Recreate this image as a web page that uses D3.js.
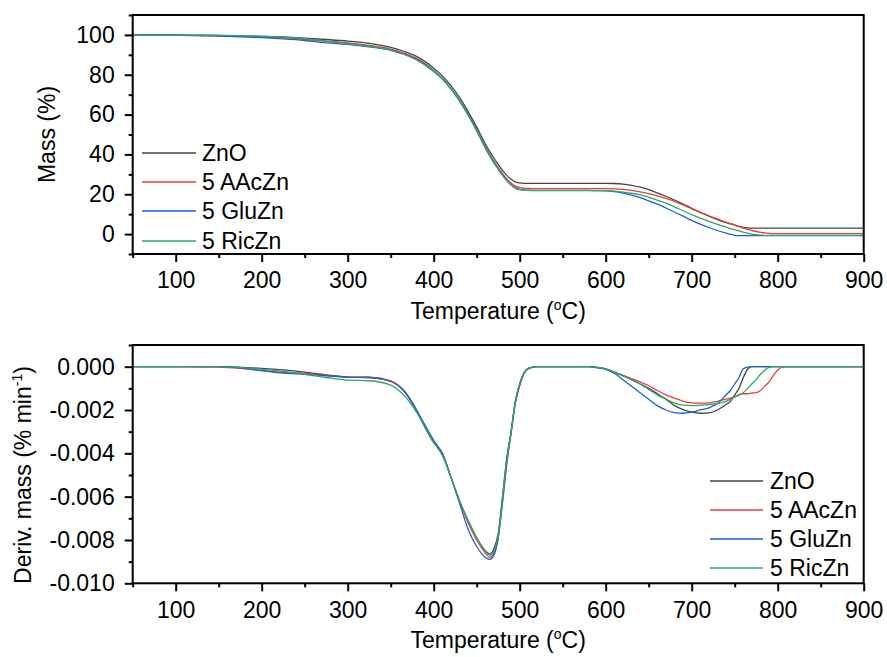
<!DOCTYPE html>
<html><head><meta charset="utf-8">
<script src="https://cdn.jsdelivr.net/npm/d3@7/dist/d3.min.js"></script>
<style>body{margin:0;background:#fff;} svg text{font-family:"Liberation Sans",Arial,sans-serif;fill:#000;}</style>
</head><body>
<svg id="c" width="887" height="657"></svg>
<script>
const temps = [50,100,150,175,200,225,250,275,300,325,
  350,365,380,390,400,410,420,430,440,450,
  460,465,470,475,480,485,490,495,500,505,
  510,520,550,580,590,600,610,620,630,640,
  650,660,670,680,690,700,710,720,730,740,
  745,750,755,760,765,770,775,780,785,790,
  795,800,805,810,850,900];

const seriesNames = ["ZnO","5 AAcZn","5 GluZn","5 RicZn"];

const massZnO = [100,99.9,99.7,99.5,99.3,99.0,98.4,97.7,96.9,95.8,
  93.8,91.8,89.2,86.6,83.3,79.4,74.5,68.6,61.5,53.7,
  45.3,41.5,38.2,35.0,32.0,29.5,27.5,26.2,25.7,25.5,
  25.5,25.5,25.5,25.5,25.5,25.5,25.4,25.1,24.5,23.6,
  22.3,20.7,19.0,17.1,15.1,12.9,10.9,9.0,7.3,5.8,
  5.1,4.5,3.9,3.4,3.1,3.0,3.0,3.0,3.0,3.0,
  3.0,3.0,3.0,3.0,3.0,3.0];
const massAAc = [100,99.9,99.6,99.4,99.0,98.5,97.8,96.9,96.0,94.8,
  92.9,90.9,88.2,85.5,82.0,78.0,73.0,67.0,60.0,52.2,
  43.8,40.0,36.6,33.4,30.3,27.7,25.6,24.1,23.3,23.0,
  22.9,22.8,22.8,22.8,22.8,22.8,22.7,22.4,21.9,21.2,
  20.3,19.2,17.9,16.4,14.6,12.7,10.9,9.2,7.6,6.0,
  5.3,4.6,3.8,3.0,2.4,1.8,1.3,0.9,0.6,0.4,
  0.25,0.2,0.2,0.2,0.2,0.2];
const massGlu = [100,99.8,99.4,99.0,98.6,98.0,97.2,96.0,95.2,94.0,
  92.3,90.4,87.8,85.2,81.9,78.0,73.0,67.0,60.0,52.0,
  43.4,39.5,36.0,32.8,29.7,27.0,24.8,23.2,22.4,22.1,
  22.0,21.9,21.9,21.9,21.8,21.7,21.3,20.6,19.6,18.3,
  16.7,15.0,13.1,11.1,9.0,6.9,5.0,3.3,1.8,0.5,
  -0.1,-0.6,-0.8,-0.8,-0.8,-0.8,-0.8,-0.8,-0.8,-0.8,
  -0.8,-0.8,-0.8,-0.8,-0.8,-0.8];
const massRic = [100,99.9,99.8,99.6,99.3,98.9,98.1,96.8,95.6,94.2,
  92.4,90.3,87.4,84.8,81.6,77.8,72.8,66.8,59.8,51.8,
  43.2,39.3,35.8,32.6,29.5,26.8,24.6,23.0,22.3,22.0,
  21.9,21.8,21.8,21.8,21.8,21.8,21.6,21.1,20.5,19.7,
  18.6,17.1,15.5,13.7,11.7,9.8,8.0,6.4,4.9,3.5,
  2.8,2.2,1.6,1.0,0.5,0.0,-0.3,-0.5,-0.6,-0.6,
  -0.6,-0.6,-0.6,-0.6,-0.6,-0.6];

const dtgZnO = [0,0,0,-0.00003,-0.00008,-0.00015,-0.00025,-0.00038,-0.00048,-0.0005,
  -0.00068,-0.0011,-0.002,-0.0028,-0.0035,-0.004,-0.0051,-0.0062,-0.0071,-0.0079,
  -0.0085,-0.00865,-0.0084,-0.0077,-0.006,-0.0042,-0.003,-0.0016,-0.0008,-0.0003,
  -0.00008,0,0,0,-0.00003,-0.0001,-0.00025,-0.00042,-0.0006,-0.0008,
  -0.001,-0.00125,-0.0015,-0.0018,-0.00198,-0.0021,-0.00215,-0.00213,-0.002,-0.00175,
  -0.0016,-0.0013,-0.001,-0.0005,-0.00012,0,0,0,0,0,
  0,0,0,0,0,0];
const dtgAAc = [0,0,-0.00002,-0.00008,-0.00018,-0.00026,-0.0003,-0.0004,-0.00048,-0.0005,
  -0.00068,-0.0011,-0.002,-0.0028,-0.0035,-0.004,-0.0051,-0.0062,-0.0072,-0.008,
  -0.0086,-0.0088,-0.0086,-0.0079,-0.0063,-0.0045,-0.0031,-0.0017,-0.0009,-0.0003,
  -0.0001,0,0,0,-0.00003,-0.0001,-0.00025,-0.0004,-0.00055,-0.0007,
  -0.00088,-0.0011,-0.0013,-0.00145,-0.0016,-0.00167,-0.00168,-0.00167,-0.0016,-0.0015,
  -0.00145,-0.0014,-0.0013,-0.00125,-0.00125,-0.00122,-0.0012,-0.0011,-0.0009,-0.0007,
  -0.0004,-0.00015,-0.00002,0,0,0];
const dtgGlu = [0,0,0,-0.00005,-0.00018,-0.0003,-0.00035,-0.00042,-0.00048,-0.00048,
  -0.00065,-0.0011,-0.002,-0.0027,-0.0034,-0.004,-0.0051,-0.0063,-0.0075,-0.0083,
  -0.0088,-0.0089,-0.0087,-0.0079,-0.0062,-0.0044,-0.003,-0.0016,-0.0008,-0.0003,
  -0.00008,0,0,0,-0.00005,-0.00012,-0.0003,-0.0006,-0.0009,-0.0012,
  -0.0015,-0.0018,-0.002,-0.00212,-0.00215,-0.0021,-0.002,-0.0019,-0.0017,-0.0013,
  -0.0011,-0.0008,-0.0005,-0.0001,-0.00002,0,0,0,0,0,
  0,0,0,0,0,0];
const dtgRic = [0,0,0,-0.00003,-0.00012,-0.00022,-0.00035,-0.0005,-0.00062,-0.00065,
  -0.00085,-0.0013,-0.0021,-0.0028,-0.0035,-0.0041,-0.0051,-0.0062,-0.0071,-0.0079,
  -0.0085,-0.0087,-0.0085,-0.0078,-0.0061,-0.0043,-0.003,-0.0016,-0.0008,-0.0003,
  -0.00008,0,0,0,-0.00003,-0.0001,-0.00025,-0.00042,-0.0006,-0.0008,
  -0.00105,-0.0013,-0.0015,-0.00168,-0.00178,-0.0018,-0.00178,-0.00175,-0.0017,-0.0016,
  -0.0015,-0.0014,-0.0013,-0.0012,-0.001,-0.0008,-0.0006,-0.00035,-0.00015,-0.00003,
  0,0,0,0,0,0];

const xTicks = [100,200,300,400,500,600,700,800,900];
const xMinorTicks = [50,150,250,350,450,550,650,750,850];
const massTicks = [0,20,40,60,80,100];
const massMinorTicks = [-10,10,30,50,70,90,110];
const dtgTicks = [0,-0.002,-0.004,-0.006,-0.008,-0.010];
const dtgMinorTicks = [0.001,-0.001,-0.003,-0.005,-0.007,-0.009];

const colors = ["#454545","#f03a3a","#1c5fd8","#2aa866"];
const FS = 23;

const svg = d3.select("#c");
const L = 132.7, R = 863.7;
const x = d3.scaleLinear().domain([50,900]).range([L,R]);

function panel(top, bottom, yDomain, majors, minors, fmt, seriesList) {
  const y = d3.scaleLinear().domain(yDomain).range([bottom, top]);
  const g = svg.append("g");
  const clipId = "clip" + Math.round(top);
  svg.append("clipPath").attr("id", clipId).append("rect")
    .attr("x", L).attr("y", top).attr("width", R - L).attr("height", bottom - top);
  const line = d3.line().x((d,i)=>x(temps[i])).y(d=>y(d)).curve(d3.curveMonotoneX);
  const cg = g.append("g").attr("clip-path", `url(#${clipId})`);
  seriesList.forEach((s, i) => {
    cg.append("path").attr("d", line(s)).attr("fill","none")
      .attr("stroke", colors[i]).attr("stroke-width",1.3);
  });
  g.append("g").attr("transform",`translate(0,${bottom})`)
    .call(d3.axisBottom(x).tickValues(xTicks).tickSize(8).tickPadding(10).tickFormat(d3.format("d")));
  g.append("g").attr("transform",`translate(0,${bottom})`)
    .call(d3.axisBottom(x).tickValues(xMinorTicks).tickSize(4).tickFormat(""));
  g.append("g").attr("transform",`translate(${L},0)`)
    .call(d3.axisLeft(y).tickValues(majors).tickSize(8).tickPadding(10).tickFormat(fmt));
  g.append("g").attr("transform",`translate(${L},0)`)
    .call(d3.axisLeft(y).tickValues(minors).tickSize(4).tickFormat(""));
  g.selectAll(".domain").remove();
  g.selectAll(".tick line").attr("stroke","#000").attr("stroke-width",2);
  g.selectAll(".tick text").attr("font-size",FS).attr("font-family",'"Liberation Sans",Arial,sans-serif').attr("fill","#000");
  g.append("rect").attr("x",L).attr("y",top).attr("width",R-L).attr("height",bottom-top)
    .attr("fill","none").attr("stroke","#000").attr("stroke-width",2);
  const t = g.append("text").attr("x",(L+R)/2).attr("text-anchor","middle").attr("font-size",FS)
    .attr("y", bottom + 65);
  t.append("tspan").text("Temperature (");
  t.append("tspan").text("o").attr("font-size",14).attr("dy",-9);
  t.append("tspan").text("C)").attr("dy",9);
  return {y, g};
}

const fmtMass = d3.format("d");
const fmtDtg = d => d3.format(".3f")(d).replace("\u2212","-");

panel(15, 254, [-10,110], massTicks, massMinorTicks, fmtMass, [massZnO,massAAc,massGlu,massRic]);
panel(345, 583.3, [-0.010,0.001], dtgTicks, dtgMinorTicks, fmtDtg, [dtgZnO,dtgAAc,dtgGlu,dtgRic]);

svg.append("text").attr("transform",`translate(55,${(15+254)/2}) rotate(-90)`)
  .attr("text-anchor","middle").attr("font-size",FS).text("Mass (%)");
const yt2 = svg.append("text").attr("transform",`translate(31,475) rotate(-90)`)
  .attr("text-anchor","middle").attr("font-size",FS);
yt2.append("tspan").text("Deriv. mass (% min");
yt2.append("tspan").text("-1").attr("font-size",14).attr("dy",-9);
yt2.append("tspan").text(")").attr("dy",9);

function legend(lx0, lx1, tx, rows) {
  seriesNames.forEach((n, i) => {
    svg.append("line").attr("x1",lx0).attr("x2",lx1).attr("y1",rows[i]).attr("y2",rows[i])
      .attr("stroke",colors[i]).attr("stroke-width",1.3);
    svg.append("text").attr("x",tx).attr("y",rows[i]+8).attr("font-size",FS).text(n);
  });
}
legend(142, 196, 202, [153,182,211,241]);
legend(710, 763, 770, [481,510,539,568]);
</script>
</body></html>
